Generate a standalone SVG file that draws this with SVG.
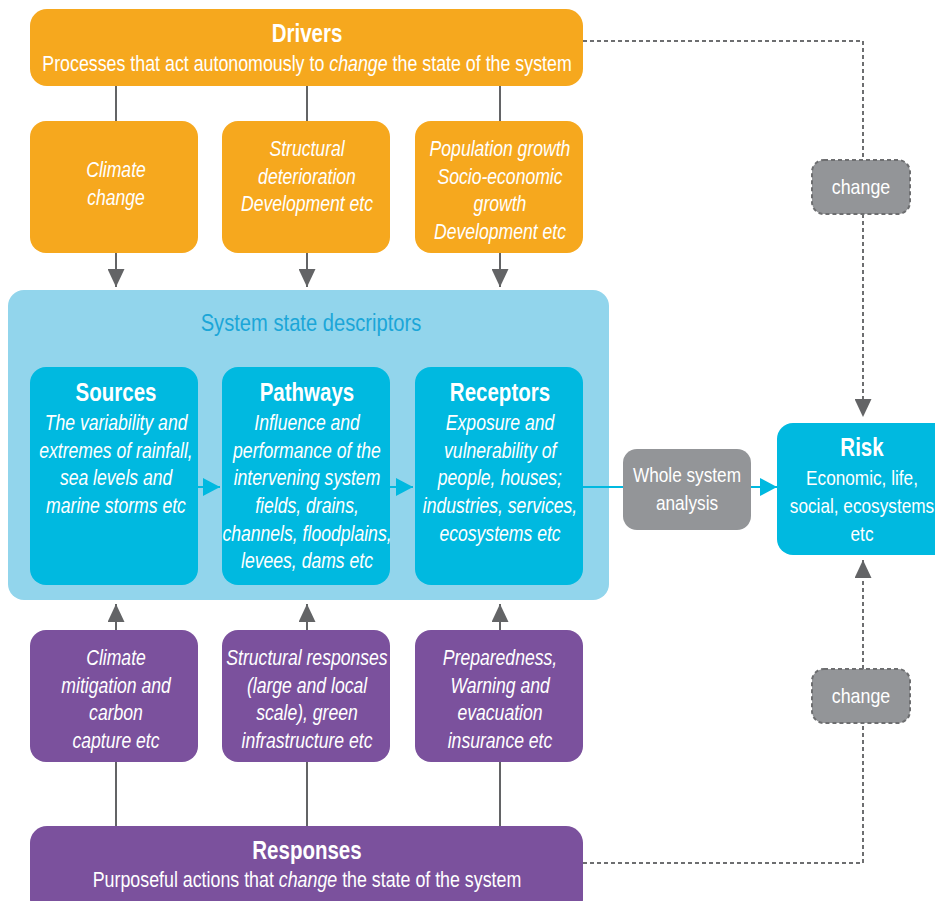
<svg xmlns="http://www.w3.org/2000/svg" width="935" height="901" viewBox="0 0 935 901">
<defs>
<style>
text{font-family:"Liberation Sans",Arial,sans-serif;fill:#fff;text-anchor:middle;transform-box:fill-box;transform-origin:center}
.t{font-weight:bold;font-size:25px;transform:scaleX(.82)}
.s{font-size:22px;transform:scaleX(.81)}
.i{font-style:italic;font-size:22px;transform:scaleX(.8)}
.r{font-size:21px;transform:scaleX(.82)}
.c{font-size:21px;transform:scaleX(.85)}
.h{font-size:24px;transform:scaleX(.84);fill:#1BA6D8}
.or{fill:#F6A81E}
.bl{fill:#00B9E0}
.pu{fill:#7B519D}
.gr{fill:#939598}
.ln{stroke:#636466;stroke-width:2;fill:none}
.dl{stroke:#6D6E70;stroke-width:2;fill:none;stroke-dasharray:4 3}
.cy{stroke:#00B9E0;stroke-width:2;fill:none}
.cb{stroke:#6D6E70;stroke-width:2;stroke-dasharray:4 3}
</style>
<marker id="ah" viewBox="0 0 18 17" refX="18" refY="8.5" markerWidth="18" markerHeight="17" markerUnits="userSpaceOnUse" orient="auto"><path d="M0,0 L18,8.5 L0,17 Z" fill="#636466"/></marker>
<marker id="ac" viewBox="0 0 17 18" refX="17" refY="9" markerWidth="17" markerHeight="18" markerUnits="userSpaceOnUse" orient="auto"><path d="M0,0 L17,9 L0,18 Z" fill="#00B9E0"/></marker>
</defs>
<rect width="935" height="901" fill="#fff"/>

<g id="connectors">
<line class="ln" x1="116" y1="86" x2="116" y2="121"/>
<line class="ln" x1="307" y1="86" x2="307" y2="121"/>
<line class="ln" x1="500" y1="86" x2="500" y2="121"/>
<line class="ln" x1="116" y1="253" x2="116" y2="287" marker-end="url(#ah)"/>
<line class="ln" x1="307" y1="253" x2="307" y2="287" marker-end="url(#ah)"/>
<line class="ln" x1="500" y1="253" x2="500" y2="287" marker-end="url(#ah)"/>
<line class="ln" x1="116" y1="630" x2="116" y2="604" marker-end="url(#ah)"/>
<line class="ln" x1="307" y1="630" x2="307" y2="604" marker-end="url(#ah)"/>
<line class="ln" x1="500" y1="630" x2="500" y2="604" marker-end="url(#ah)"/>
<line class="ln" x1="116" y1="826" x2="116" y2="762"/>
<line class="ln" x1="307" y1="826" x2="307" y2="762"/>
<line class="ln" x1="500" y1="826" x2="500" y2="762"/>
<line class="dl" x1="583" y1="41" x2="863" y2="41"/>
<line class="dl" x1="863" y1="41" x2="863" y2="160"/>
<line class="dl" x1="863" y1="214" x2="863" y2="417" marker-end="url(#ah)"/>
<line class="dl" x1="583" y1="863" x2="863" y2="863"/>
<line class="dl" x1="863" y1="863" x2="863" y2="723"/>
<line class="dl" x1="863" y1="669" x2="863" y2="560" marker-end="url(#ah)"/>
</g>

<g id="drivers">
<rect class="or" x="30" y="9" width="553" height="77" rx="17"/>
<text class="t" x="307" y="42">Drivers</text>
<text class="s" x="307" y="71">Processes that act autonomously to <tspan font-style="italic">change</tspan> the state of the system</text>
</g>
<g id="driver-climate">
<rect class="or" x="30" y="121" width="168" height="132" rx="16"/>
<text class="i" x="116" y="177">Climate</text>
<text class="i" x="116" y="205">change</text>
</g>
<g id="driver-structural">
<rect class="or" x="222" y="121" width="168" height="132" rx="16"/>
<text class="i" x="307" y="156">Structural</text>
<text class="i" x="307" y="184">deterioration</text>
<text class="i" x="307" y="211">Development etc</text>
</g>
<g id="driver-population">
<rect class="or" x="415" y="121" width="168" height="132" rx="16"/>
<text class="i" x="500" y="156">Population growth</text>
<text class="i" x="500" y="184">Socio-economic</text>
<text class="i" x="500" y="211">growth</text>
<text class="i" x="500" y="239">Development etc</text>
</g>

<g id="system-state">
<rect x="8" y="290" width="601" height="310" rx="16" fill="#92D5EC"/>
<text class="h" x="311" y="331">System state descriptors</text>
</g>
<g id="sources">
<rect class="bl" x="30" y="367" width="168" height="218" rx="16"/>
<text class="t" x="116" y="401">Sources</text>
<text class="i" x="116" y="430">The variability and</text>
<text class="i" x="116" y="458">extremes of rainfall,</text>
<text class="i" x="116" y="485">sea levels and</text>
<text class="i" x="116" y="513">marine storms etc</text>
</g>
<g id="pathways">
<rect class="bl" x="222" y="367" width="168" height="218" rx="16"/>
<text class="t" x="307" y="401">Pathways</text>
<text class="i" x="307" y="430">Influence and</text>
<text class="i" x="307" y="458">performance of the</text>
<text class="i" x="307" y="485">intervening system</text>
<text class="i" x="307" y="513">fields, drains,</text>
<text class="i" x="307" y="541">channels, floodplains,</text>
<text class="i" x="307" y="568">levees, dams etc</text>
</g>
<g id="receptors">
<rect class="bl" x="415" y="367" width="168" height="218" rx="16"/>
<text class="t" x="500" y="401">Receptors</text>
<text class="i" x="500" y="430">Exposure and</text>
<text class="i" x="500" y="458">vulnerability of</text>
<text class="i" x="500" y="485">people, houses;</text>
<text class="i" x="500" y="513">industries, services,</text>
<text class="i" x="500" y="541">ecosystems etc</text>
</g>
<g id="cyan-connectors">
<line class="cy" x1="198" y1="487" x2="220" y2="487" marker-end="url(#ac)"/>
<line class="cy" x1="390" y1="487" x2="413" y2="487" marker-end="url(#ac)"/>
<line class="cy" x1="583" y1="487" x2="623" y2="487"/>
<line class="cy" x1="751" y1="487" x2="777" y2="487" marker-end="url(#ac)"/>
</g>
<g id="whole-system">
<rect class="gr" x="623" y="449" width="128" height="81" rx="14"/>
<text class="r" x="687" y="482">Whole system</text>
<text class="r" x="687" y="510">analysis</text>
</g>
<g id="risk">
<rect class="bl" x="777" y="423" width="175" height="132" rx="16"/>
<text class="t" x="862" y="456">Risk</text>
<text class="r" x="862" y="485">Economic, life,</text>
<text class="r" x="862" y="513">social, ecosystems</text>
<text class="r" x="862" y="541">etc</text>
</g>
<g id="change-top">
<rect class="gr cb" x="812" y="160" width="98" height="54" rx="12"/>
<text class="c" x="861" y="194">change</text>
</g>
<g id="change-bottom">
<rect class="gr cb" x="812" y="669" width="98" height="54" rx="12"/>
<text class="c" x="861" y="703">change</text>
</g>

<g id="resp-climate">
<rect class="pu" x="30" y="630" width="168" height="132" rx="16"/>
<text class="i" x="116" y="665">Climate</text>
<text class="i" x="116" y="693">mitigation and</text>
<text class="i" x="116" y="720">carbon</text>
<text class="i" x="116" y="748">capture etc</text>
</g>
<g id="resp-structural">
<rect class="pu" x="222" y="630" width="168" height="132" rx="16"/>
<text class="i" x="307" y="665">Structural responses</text>
<text class="i" x="307" y="693">(large and local</text>
<text class="i" x="307" y="720">scale), green</text>
<text class="i" x="307" y="748">infrastructure etc</text>
</g>
<g id="resp-preparedness">
<rect class="pu" x="415" y="630" width="168" height="132" rx="16"/>
<text class="i" x="500" y="665">Preparedness,</text>
<text class="i" x="500" y="693">Warning and</text>
<text class="i" x="500" y="720">evacuation</text>
<text class="i" x="500" y="748">insurance etc</text>
</g>
<g id="responses">
<rect class="pu" x="30" y="826" width="553" height="90" rx="17"/>
<text class="t" x="307" y="859">Responses</text>
<text class="s" x="307" y="887">Purposeful actions that <tspan font-style="italic">change</tspan> the state of the system</text>
</g>
</svg>
